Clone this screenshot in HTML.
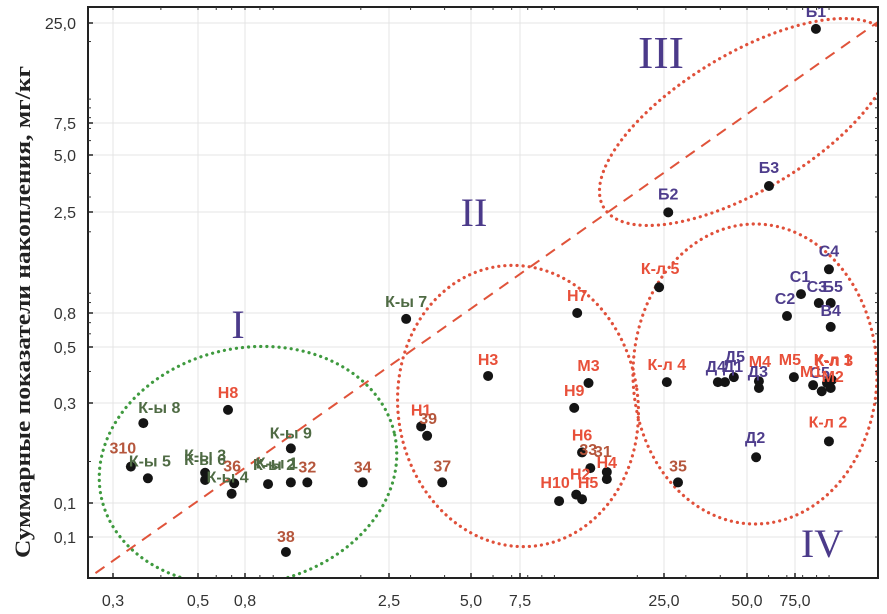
<!DOCTYPE html>
<html><head><meta charset="utf-8">
<style>
html,body{margin:0;padding:0;background:#fff;}
svg{display:block;}
.tick{font-family:"Liberation Sans",sans-serif;font-size:16px;fill:#333;}
.lbl{font-family:"Liberation Sans","DejaVu Sans",sans-serif;font-size:16px;font-weight:bold;}
</style></head>
<body>
<svg id="chart" width="887" height="614" viewBox="0 0 887 614">
<defs><clipPath id="plotclip"><rect x="88" y="7" width="790" height="571"/></clipPath></defs>
<rect x="0" y="0" width="887" height="614" fill="#fff"/>
<g id="grid"></g>
<g id="ellipses" clip-path="url(#plotclip)">
  <ellipse cx="248" cy="466" rx="150" ry="118" transform="rotate(-12 248 466)" fill="none" stroke="#3f9a3f" stroke-width="3.2" stroke-dasharray="0.1 6" stroke-linecap="round"/>
  <ellipse cx="518" cy="406" rx="120" ry="141" transform="rotate(-8 518 406)" fill="none" stroke="#e0503a" stroke-width="3.2" stroke-dasharray="0.1 6" stroke-linecap="round"/>
  <ellipse cx="746" cy="122" rx="166" ry="68" transform="rotate(-31 746 122)" fill="none" stroke="#e0503a" stroke-width="3.2" stroke-dasharray="0.1 6" stroke-linecap="round"/>
  <ellipse cx="755" cy="374" rx="122" ry="150" fill="none" stroke="#e0503a" stroke-width="3.2" stroke-dasharray="0.1 6" stroke-linecap="round"/>
</g>
<g id="refline" clip-path="url(#plotclip)"></g>
<g id="points"></g>
<g id="labels"></g>
<g id="axes"></g>
<text x="238" y="338" font-family="Liberation Serif,serif" font-size="40" fill="#4b3a8a" text-anchor="middle">I</text>
<text x="474" y="226" font-family="Liberation Serif,serif" font-size="40" fill="#4b3a8a" text-anchor="middle">II</text>
<text x="661" y="68" font-family="Liberation Serif,serif" font-size="46" fill="#4b3a8a" text-anchor="middle">III</text>
<text x="822" y="557" font-family="Liberation Serif,serif" font-size="40" fill="#4b3a8a" text-anchor="middle">IV</text>
<text transform="translate(30 312) rotate(-90)" text-anchor="middle" font-family="Liberation Serif,serif" font-weight="bold" font-size="22" fill="#222" textLength="492" lengthAdjust="spacingAndGlyphs">Суммарные показатели накопления, мг/кг</text>
</svg>
<script>
// axis tick values and labels
const xTickValues = [0.3,0.5,0.8,2.5,5,7.5,25,50,75];
const xTickLabels = ["0,3","0,5","0,8","2,5","5,0","7,5","25,0","50,0","75,0"];
const yTickValues = [25,7.5,5,2.5,0.8,0.5,0.3,0.15,0.1];
const yTickLabels = ["25,0","7,5","5,0","2,5","0,8","0,5","0,3","0,1","0,1"];
// point data
const pointNames = ["К-ы 8","Н8","310","К-ы 5","К-ы 3","К-ы 6","36","К-ы 4","К-ы 2","К-ы 9","К-ы 1","32","34","38","К-ы 7",
 "Н7","Н3","М3","Н9","Н1","39","37","Н6","33","31","Н4","Н2","Н5","Н10","К-л 5","К-л 4","35",
 "Б1","Б2","Б3","С4","С1","С3","Б5","С2","В4","Д4","Д1","Д5","М4","Д3","М5","К-л 1","С5","К-л 3","М1","М2","К-л 2","Д2"];
const xValues = [0.36,0.675,0.334,0.37,0.537,0.537,0.718,0.70,0.96,1.15,1.15,1.31,2.03,1.106,2.89,
 12.1,5.76,13.3,11.8,3.28,3.45,3.92,12.6,13.5,15.5,15.5,12.0,12.6,10.4,24.0,25.6,28.1,
 89.5,25.9,60.2,99.9,78.9,91.7,101.4,70.1,101.4,39.2,41.6,44.8,55.3,55.3,74.3,98.3,94.0,102.4,87.4,101.4,99.9,54];
const yValues = [0.261,0.286,0.193,0.178,0.185,0.176,0.172,0.16,0.171,0.219,0.173,0.173,0.173,0.0836,0.737,
 0.80,0.384,0.36,0.29,0.255,0.239,0.173,0.213,0.191,0.186,0.177,0.159,0.154,0.152,1.07,0.363,0.173,
 23.3,2.49,3.43,1.31,0.99,0.895,0.895,0.767,0.66,0.363,0.363,0.38,0.366,0.344,0.38,0.36,0.334,0.37,0.353,0.344,0.23,0.206];
const pointGroups = ["g","r","b","g","g","g","b","g","g","g","g","b","b","b","g",
 "r","r","r","r","r","b","b","r","b","b","r","r","r","r","r","r","b",
 "p","p","p","p","p","p","p","p","p","p","p","p","r","p","r","r","p","r","r","r","r","p"];
const refLineX = [0.27,151];
const refLineY = [0.065,25.3];

// label placement offsets (style)
const labelDx = [16,0,-8,2,0,0,-2,-4,6,0,-14,0,0,0,0, 0,0,0,0,0,1,0,0,-2,-4,0,4,6,-4,1,0,0, 0,0,0,0,-1,-2,2,-2,0,-2,8,1,1,-1,-4,6,-2,2,-2,2,-1,-1];
const labelDy = [-10,-12,-13,-12,-12,-15,-12,-11,-14,-10,-14,-10,-10,-10,-12, -12,-11,-12,-12,-11,-12,-11,-12,-13,-15,-11,-15,-11,-13,-13,-12,-11, -12,-13,-13,-13,-12,-11,-11,-12,-11,-10,-10,-15,-14,-11,-12,-18,-13,-14,-8,-6,-14,-14];
const groupColor = {g:"#4f6b44", r:"#e8503a", b:"#b5563c", p:"#4e3d8c"};

const xTickPx = [113,198,245,389,471,520,664,747,795];
const yTickPx = [23,123,155,212,313,347,403,503,537];
const PL=88, PR=878, PT=7, PB=578;

function pieceLog(v, vals, px){
  const lv=Math.log10(v); const L=vals.map(Math.log10);
  const asc = L[1]>L[0];
  let n=vals.length, i;
  for(i=0;i<n-2;i++){
    if(asc ? lv<=L[i+1] : lv>=L[i+1]) break;
  }
  const f=(lv-L[i])/(L[i+1]-L[i]);
  return px[i]+f*(px[i+1]-px[i]);
}
function xScale(v){ return pieceLog(v, xTickValues, xTickPx); }
function yScale(v){ return pieceLog(v, yTickValues, yTickPx); }

const NS="http://www.w3.org/2000/svg";
function mk(tag, attrs, parent){ const e=document.createElementNS(NS,tag); for(const k in attrs) e.setAttribute(k,attrs[k]); parent.appendChild(e); return e; }

const grid=document.getElementById('grid');
xTickValues.forEach((v,i)=>{
  const x=xScale(v);
  const l=mk('line',{x1:x,x2:x,y1:PT,y2:PB,stroke:"#e4e4e4","stroke-width":1},grid);
  
  
});
yTickValues.forEach((v,i)=>{
  const y=yScale(v);
  const l=mk('line',{x1:PL,x2:PR,y1:y,y2:y,stroke:"#e4e4e4","stroke-width":1},grid);
  
  
});

const rl=document.getElementById('refline');
const ln=mk('line',{x1:xScale(refLineX[0]),y1:yScale(refLineY[0]),x2:xScale(refLineX[1]),y2:yScale(refLineY[1]),stroke:"#e0533a","stroke-width":2,"stroke-dasharray":"11 8"},rl);



const pts=document.getElementById('points');
const lbs=document.getElementById('labels');
pointNames.forEach((n,i)=>{
  const cx=xScale(xValues[i]), cy=yScale(yValues[i]);
  const c=mk('circle',{cx:cx,cy:cy,r:5,fill:"#141414"},pts);
  
  
  const t=mk('text',{x:cx+labelDx[i],y:cy+labelDy[i],"text-anchor":"middle",class:"lbl",fill:groupColor[pointGroups[i]]},lbs);
  t.textContent=n;
  
  
});

const ax=document.getElementById('axes');
const fr=mk('rect',{x:PL,y:PT,width:PR-PL,height:PB-PT,fill:"none",stroke:"#222","stroke-width":2},ax);


const minorX=[], minorY=[];
for(let e=-1;e<=2;e++) for(let k=1;k<10;k++){ minorX.push(k*Math.pow(10,e)); minorY.push(k*Math.pow(10,e)); }
minorX.forEach(v=>{ const x=xScale(v); if(x>PL+2&&x<PR-2){
  const a=mk('line',{x1:x,x2:x,y1:PB,y2:PB-3,stroke:"#333","stroke-width":1},ax);
   
  const b=mk('line',{x1:x,x2:x,y1:PT,y2:PT+3,stroke:"#333","stroke-width":1},ax);
   
}});
minorY.forEach(v=>{ const y=yScale(v); if(y>PT+2&&y<PB-2){
  const a=mk('line',{x1:PL,x2:PL+3,y1:y,y2:y,stroke:"#333","stroke-width":1},ax);
   
  const b=mk('line',{x1:PR,x2:PR-3,y1:y,y2:y,stroke:"#333","stroke-width":1},ax);
   
}});
xTickValues.forEach((v,i)=>{
  const x=xScale(v);
  const tk=mk('line',{x1:x,x2:x,y1:PB,y2:PB-5,stroke:"#222","stroke-width":1.5},ax);
   
  const t=mk('text',{x:x,y:606,"text-anchor":"middle",class:"tick"},ax);
  t.textContent=xTickLabels[i];
   
});
yTickValues.forEach((v,i)=>{
  const y=yScale(v);
  const tk=mk('line',{x1:PL,x2:PL+5,y1:y,y2:y,stroke:"#222","stroke-width":1.5},ax);
   
  const t=mk('text',{x:76,y:y+6,"text-anchor":"end",class:"tick"},ax);
  t.textContent=yTickLabels[i];
   
});
</script>
</body></html>
